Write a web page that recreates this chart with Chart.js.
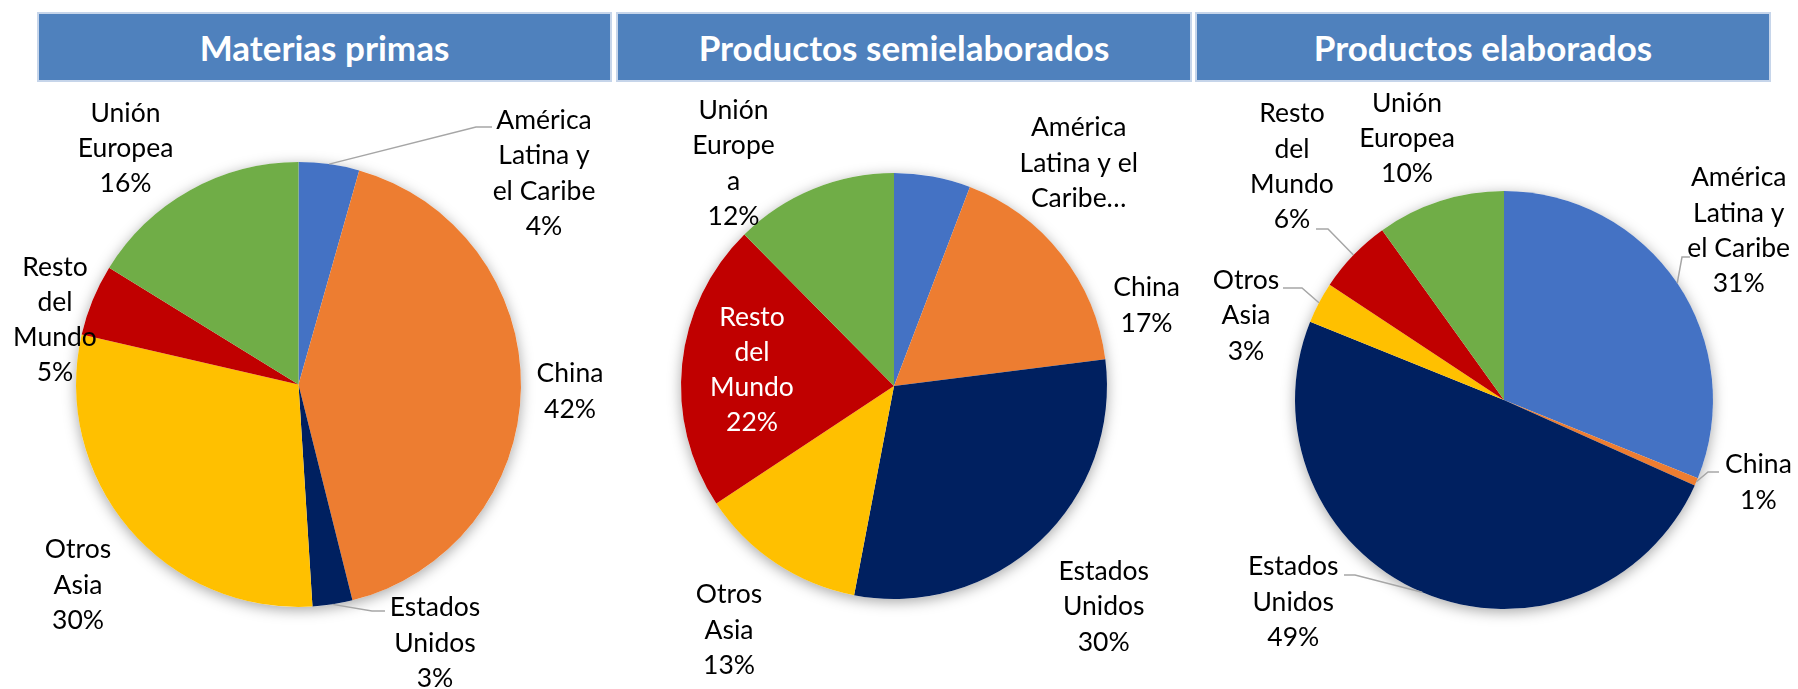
<!DOCTYPE html>
<html>
<head>
<meta charset="utf-8">
<script src="https://cdn.jsdelivr.net/npm/chart.js@4.4.1/dist/chart.umd.min.js"></script>
<style>
  body { margin: 0; background: #fff; width: 1798px; height: 689px; overflow: hidden; position: relative; font-family: Lato, sans-serif; }
  .hdr { position: absolute; top: 12px; height: 70px; background: #4f81bd; border: 2px solid #c6d5ea; box-sizing: border-box;
         color: #fff; font-weight: 700; font-size: 35px; display: flex; align-items: center; justify-content: center; }
  canvas { position: absolute; }
</style>
</head>
<body>
<script>
const regions = ['América Latina y el Caribe', 'China', 'Estados Unidos', 'Otros Asia', 'Resto del Mundo', 'Unión Europea'];
const colors = ['#4472c4', '#ed7d31', '#002060', '#ffc000', '#c00000', '#70ad47'];
const titles = ['Materias primas', 'Productos semielaborados', 'Productos elaborados'];

// shares (%) by destination
const materiasPrimas = [4.4, 41.7, 2.9, 29.6, 5.2, 16.2];
const semielaborados = [5.8, 17.2, 30.0, 12.7, 21.9, 12.4];
const elaborados = [31.1, 0.6, 49.4, 3.2, 5.8, 9.9];

// page layout: header bar, canvas box, pie centre/radius (page px)
const panels = [
  { bar: [37, 575], box: [0, 615], cx: 298.5, cy: 384.5, r: 222.5 },
  { bar: [616, 576], box: [615, 577], cx: 894, cy: 386, r: 213 },
  { bar: [1195, 576], box: [1192, 606], cx: 1504, cy: 400, r: 209 }
];
const canvasTop = 84, canvasH = 605;

// label placement: text lines, block centre offset from pie centre, optional leader [elbowDx, elbowDy, tail]
const labelsMP = [
  { lines: ['América', 'Latina y', 'el Caribe'], at: [245.5, -211], leader: [177.5, -257.5, 16] },
  { lines: ['China'], at: [271.5, 7] },
  { lines: ['Estados', 'Unidos'], at: [136.5, 258.5], leader: [73.5, 226.5, 13] },
  { lines: ['Otros', 'Asia'], at: [-220.5, 200.5] },
  { lines: ['Resto', 'del', 'Mundo'], at: [-243.5, -64.5] },
  { lines: ['Unión', 'Europea'], at: [-173, -236] }
];
const labelsSE = [
  { lines: ['América', 'Latina y el', 'Caribe…'], at: [184.7, -223], noPct: true },
  { lines: ['China'], at: [252.6, -80.5] },
  { lines: ['Estados', 'Unidos'], at: [209.7, 220.7] },
  { lines: ['Otros', 'Asia'], at: [-165, 244] },
  { lines: ['Resto', 'del', 'Mundo'], at: [-142, -16], color: '#fff' },
  { lines: ['Unión', 'Europe', 'a'], at: [-160.5, -222.6] }
];
const labelsEL = [
  { lines: ['América', 'Latina y', 'el Caribe'], at: [234.7, -169.2], leader: [178, -143, 8] },
  { lines: ['China'], at: [254.4, 82.5], leader: [204, 72, 11] },
  { lines: ['Estados', 'Unidos'], at: [-210.7, 202], leader: [-149, 175, -11] },
  { lines: ['Otros', 'Asia'], at: [-258, -84.2], leader: [-202, -112, -19] },
  { lines: ['Resto', 'del', 'Mundo'], at: [-212, -233.3], leader: [-176, -171, -12] },
  { lines: ['Unión', 'Europea'], at: [-97, -261.7] }
];

const LINE_H = 35.3;

const pieExtras = {
  id: 'pieExtras',
  beforeDatasetsDraw(chart) {
    const arc = chart.getDatasetMeta(0).data[0];
    const ctx = chart.ctx;
    ctx.save();
    ctx.shadowColor = 'rgba(0,0,0,0.35)';
    ctx.shadowBlur = 14;
    ctx.shadowOffsetY = 3;
    ctx.beginPath();
    ctx.arc(arc.x, arc.y, arc.outerRadius, 0, Math.PI * 2);
    ctx.fillStyle = '#fff';
    ctx.fill();
    ctx.restore();
  },
  afterDatasetsDraw(chart, args, opts) {
    const meta = chart.getDatasetMeta(0);
    const values = chart.data.datasets[0].data;
    const total = values.reduce((a, b) => a + b, 0);
    const ctx = chart.ctx;
    ctx.save();
    opts.labels.forEach((lab, i) => {
      const a = meta.data[i];
      const cx = a.x, cy = a.y;
      if (lab.leader) {
        const mid = (a.startAngle + a.endAngle) / 2;
        const [ex, ey, tail] = lab.leader;
        ctx.beginPath();
        ctx.moveTo(cx + Math.cos(mid) * a.outerRadius, cy + Math.sin(mid) * a.outerRadius);
        ctx.lineTo(cx + ex, cy + ey);
        ctx.lineTo(cx + ex + tail, cy + ey);
        ctx.strokeStyle = '#a6a6a6';
        ctx.lineWidth = 1.5;
        ctx.stroke();
      }
      const lines = lab.lines.slice();
      if (!lab.noPct) lines.push(Math.round(values[i] / total * 100) + '%');
      ctx.font = '26.5px Lato, sans-serif';
      ctx.fillStyle = lab.color || '#000';
      ctx.textAlign = 'center';
      ctx.textBaseline = 'middle';
      lines.forEach((t, k) => {
        ctx.fillText(t, cx + lab.at[0], cy + lab.at[1] + (k - (lines.length - 1) / 2) * LINE_H);
      });
    });
    ctx.restore();
  }
};

function makePie(idx, values, labels) {
  const p = panels[idx];
  const hdr = document.createElement('div');
  hdr.className = 'hdr';
  hdr.style.left = p.bar[0] + 'px';
  hdr.style.width = p.bar[1] + 'px';
  hdr.textContent = titles[idx];
  document.body.appendChild(hdr);

  const cv = document.createElement('canvas');
  cv.width = p.box[1];
  cv.height = canvasH;
  cv.style.left = p.box[0] + 'px';
  cv.style.top = canvasTop + 'px';
  document.body.appendChild(cv);

  const lx = p.cx - p.box[0], ly = p.cy - canvasTop;
  new Chart(cv.getContext('2d'), {
    type: 'pie',
    data: {
      labels: regions,
      datasets: [{
        data: values,
        backgroundColor: colors,
        borderWidth: 0,
        hoverOffset: 0
      }]
    },
    options: {
      responsive: false,
      animation: false,
      layout: {
        padding: {
          left: lx - p.r,
          right: p.box[1] - lx - p.r,
          top: ly - p.r,
          bottom: canvasH - ly - p.r
        }
      },
      plugins: {
        legend: { display: false },
        tooltip: { enabled: false },
        pieExtras: { labels: labels }
      }
    },
    plugins: [pieExtras]
  });
}

makePie(0, materiasPrimas, labelsMP);
makePie(1, semielaborados, labelsSE);
makePie(2, elaborados, labelsEL);
</script>
</body>
</html>
